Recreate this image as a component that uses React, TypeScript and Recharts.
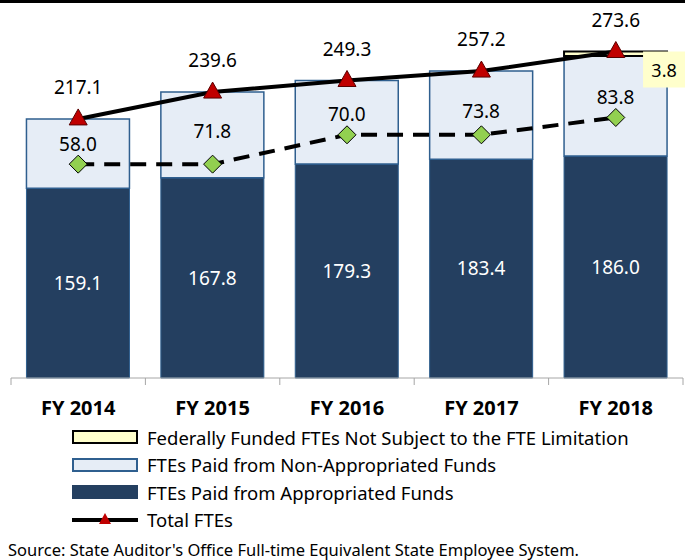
import React from 'react';
import { ComposedChart, Bar, Line, XAxis, YAxis, LabelList } from 'recharts';

const years = ['FY 2014', 'FY 2015', 'FY 2016', 'FY 2017', 'FY 2018'];
const appropriated = [159.1, 167.8, 179.3, 183.4, 186.0];
const nonAppropriated = [58.0, 71.8, 70.0, 73.8, 83.8];
const federal = [null, null, null, null, 3.8];
const totals = [217.1, 239.6, 249.3, 257.2, 273.6];
const limit = [179.2, 179.2, 203.8, 203.8, 218.3];

const data = years.map((year, i) => ({
  year,
  approp: appropriated[i],
  nonApprop: nonAppropriated[i],
  federal: federal[i],
  total: totals[i],
  limit: limit[i],
}));

const FONT = "'Noto Sans', sans-serif";
const W = 685;
const M = { top: 20, right: 2, left: 11, bottom: 12 };
const plotW = W - M.left - M.right;

const Triangle = (props: any) => {
  const { cx, cy } = props;
  if (cx == null || cy == null) return null;
  return <path d={`M${cx},${cy - 10} L${cx + 9},${cy + 6} L${cx - 9},${cy + 6} Z`} fill="#C00000" stroke="#5a0000" strokeWidth={1} />;
};

const Diamond = (props: any) => {
  const { cx, cy } = props;
  if (cx == null || cy == null) return null;
  return <path d={`M${cx},${cy - 9} L${cx + 9},${cy} L${cx},${cy + 9} L${cx - 9},${cy} Z`} fill="#92D050" stroke="#000" strokeWidth={1} />;
};

const AxisTick = (props: any) => {
  const { x, y, payload, index } = props;
  const half = plotW / years.length / 2;
  return (
    <g>
      <line x1={x - half} x2={x - half} y1={y - 8} y2={y - 1} stroke="#A6A6A6" />
      {index === years.length - 1 && <line x1={x + half} x2={x + half} y1={y - 8} y2={y - 1} stroke="#A6A6A6" />}
      <text x={x} y={y + 29} textAnchor="middle" fontFamily={FONT} fontWeight="bold" fontSize={20} fill="#000">
        {payload.value}
      </text>
    </g>
  );
};

// non-appropriated label: centred in its segment, but kept clear of the limit diamond
const NonApLabel = (props: any) => {
  const { x, y, width, height, value, index } = props;
  if (value == null) return null;
  const pxPerUnit = height / value;
  const base = y + height + appropriated[index] * pxPerUnit;
  const diamondY = base - limit[index] * pxPerUnit;
  const ty = Math.min(y + height / 2 - 4, diamondY - 20);
  return (
    <text x={x + width / 2} y={ty} dy="0.35em" textAnchor="middle" fontFamily={FONT} fontSize={19} fill="#000">
      {Number(value).toFixed(1)}
    </text>
  );
};

const FedLabel = (props: any) => {
  const { x, y, width, value } = props;
  if (value == null) return null;
  const bx = x + width - 24;
  return (
    <g>
      <rect x={bx} y={y} width={W - bx} height={36} fill="#FFFFCC" />
      <text x={bx + 21} y={y + 25} textAnchor="middle" fontFamily={FONT} fontSize={18} fill="#000">
        {Number(value).toFixed(1)}
      </text>
    </g>
  );
};

const legendItems = [
  { label: 'Federally Funded FTEs Not Subject to the FTE Limitation', fill: '#FFFFCC', stroke: '#000' },
  { label: 'FTEs Paid from Non-Appropriated Funds', fill: '#E6EDF6', stroke: '#2F5F8F' },
  { label: 'FTEs Paid from Appropriated Funds', fill: '#243F60', stroke: '#243F60' },
];

export default function App() {
  return (
    <div style={{ position: 'absolute', left: 0, top: 0, width: W, height: 560, background: '#fff', fontFamily: FONT }}>
      <div style={{ position: 'absolute', left: 0, top: 0, width: W, height: 3, background: '#000' }} />
      <ComposedChart width={W} height={430} data={data} margin={M} barCategoryGap="11.5%">
        <XAxis dataKey="year" tickLine={false} axisLine={{ stroke: '#A6A6A6' }} tick={<AxisTick />} height={40} interval={0} />
        <YAxis hide domain={[0, 300]} />
        <Bar dataKey="approp" stackId="a" fill="#243F60" stroke="#2F5F8F" strokeWidth={1} isAnimationActive={false}>
          <LabelList dataKey="approp" position="center" fill="#fff" fontSize={19} fontFamily={FONT} formatter={(v: any) => Number(v).toFixed(1)} />
        </Bar>
        <Bar dataKey="nonApprop" stackId="a" fill="#E6EDF6" stroke="#2F5F8F" strokeWidth={1.5} isAnimationActive={false}>
          <LabelList dataKey="nonApprop" content={<NonApLabel />} />
        </Bar>
        <Bar dataKey="federal" stackId="a" fill="#FFFFCC" stroke="#000" strokeWidth={2} isAnimationActive={false}>
          <LabelList dataKey="federal" content={<FedLabel />} />
        </Bar>
        <Line dataKey="limit" stroke="#000" strokeWidth={4} strokeDasharray="16 10" dot={<Diamond />} activeDot={false} isAnimationActive={false} />
        <Line dataKey="total" stroke="#000" strokeWidth={4} dot={<Triangle />} activeDot={false} isAnimationActive={false}>
          <LabelList dataKey="total" position="top" offset={25} fill="#000" fontSize={19} fontFamily={FONT} formatter={(v: any) => Number(v).toFixed(1)} />
        </Line>
      </ComposedChart>
      {legendItems.map((it, i) => (
        <div key={it.label} style={{ position: 'absolute', left: 72, top: 427 + i * 27.5, height: 20, display: 'flex', alignItems: 'center' }}>
          <div style={{ width: 62, height: 10, background: it.fill, border: `2px solid ${it.stroke}` }} />
          <span style={{ marginLeft: 9, fontSize: 18.5, color: '#000', whiteSpace: 'nowrap' }}>{it.label}</span>
        </div>
      ))}
      <div style={{ position: 'absolute', left: 72, top: 509.5, height: 20, display: 'flex', alignItems: 'center' }}>
        <svg width={66} height={20}>
          <line x1={0} y1={10} x2={66} y2={10} stroke="#000" strokeWidth={4} />
          <path d="M33,3 L39,14 L27,14 Z" fill="#C00000" />
        </svg>
        <span style={{ marginLeft: 9, fontSize: 18.5, color: '#000' }}>Total FTEs</span>
      </div>
      <div style={{ position: 'absolute', left: 8, top: 538, fontSize: 16.5, color: '#000', whiteSpace: 'nowrap' }}>
        Source: State Auditor's Office Full-time Equivalent State Employee System.
      </div>
    </div>
  );
}
